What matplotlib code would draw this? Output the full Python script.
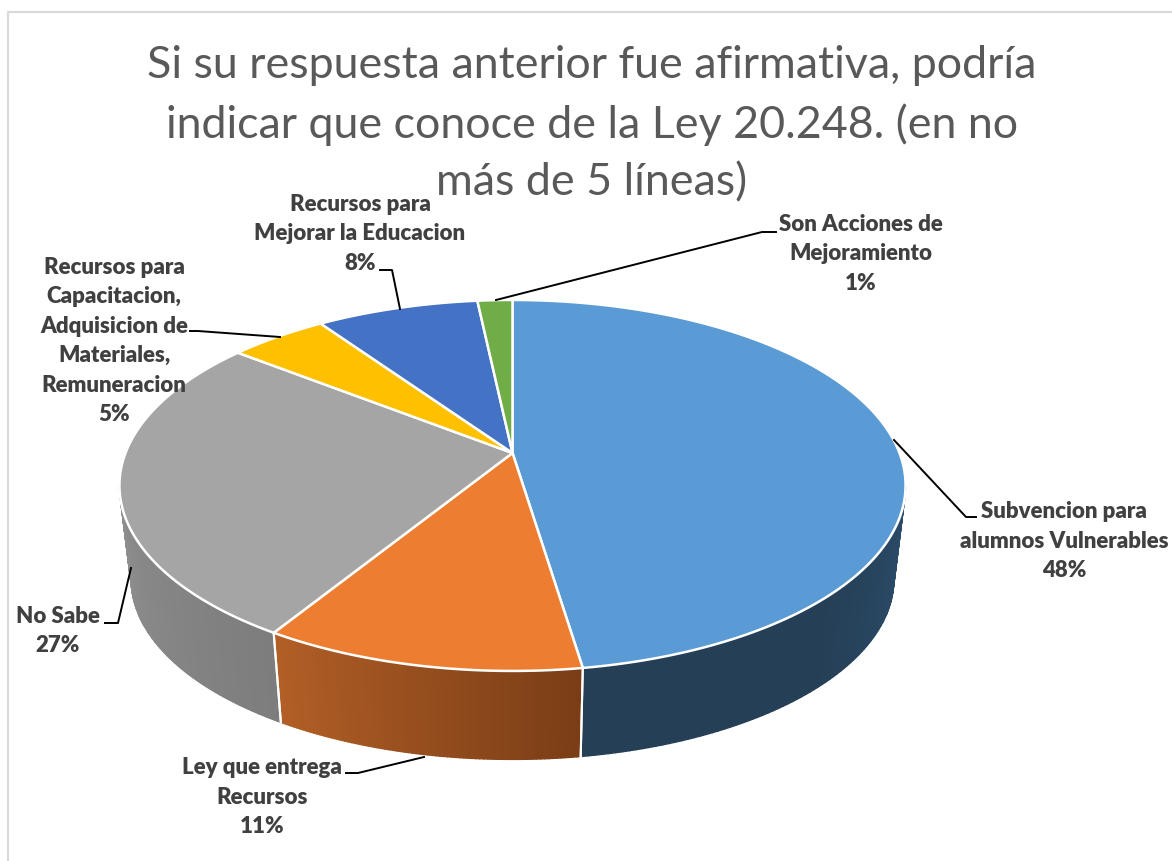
import numpy as np
import matplotlib.pyplot as plt
from matplotlib.colors import LinearSegmentedColormap
from matplotlib.patches import Polygon

# porcentajes (empieza arriba, sentido horario)
shares = [47.6, 11.2, 26.8, 4.8, 7.9, 1.7]
names = ['Subvencion para\nalumnos Vulnerables', 'Ley que entrega\nRecursos', 'No Sabe',
         'Recursos para\nCapacitacion,\nAdquisicion de\nMateriales,\nRemuneracion',
         'Recursos para\nMejorar la Educacion', 'Son Acciones de\nMejoramiento']
pct_labels = ['48%', '11%', '27%', '5%', '8%', '1%']
title = 'Si su respuesta anterior fue afirmativa, podría\nindicar que conoce de la Ley 20.248. (en no\nmás de 5 líneas)'

top_colors = ['#5B9BD5', '#ED7D31', '#A5A5A5', '#FFC000', '#4472C4', '#70AD47']
side_stops = [['#253F56', '#253F56', '#2C4D6B'], ['#B25F26', '#7A3D16'], ['#8E8E8E', '#7D7D7D'],
              ['#99730A', '#99730A'], ['#29447A', '#29447A'], ['#43682B', '#43682B']]

label_xy = [(1064, 541), (262, 797), (58, 631), (114, 341), (360, 234), (861, 254)]
leaders = [[(894, 440), (966, 517), (976, 517)],
           [(424, 757), (358, 773), (346, 773)],
           [(131, 568), (118, 623), (105, 623)],
           [(280, 337), (198, 331), (190, 331)],
           [(400, 309), (392, 270), (380, 270)],
           [(496, 300), (762, 232), (776, 232)]]

cx, cy = 512.5, 453
a, b, k = 387, 179.8, 0.175
shrink, drop = 0.97, 95


def top_pt(th):
    x, y = np.sin(th), np.cos(th)
    w = 1 + k * y
    return cx + a * x / w, cy - b * y / w


def low_pt(th):
    x, y = np.sin(th), np.cos(th)
    w = 1 + k * y
    return cx + shrink * a * x / w, cy + drop - shrink * b * y / w


fig = plt.figure(figsize=(11.72, 8.61), dpi=100)
ax = fig.add_axes([0, 0, 1, 1])
ax.set_xlim(0, 1172)
ax.set_ylim(861, 0)
ax.axis('off')

# borde del area del grafico
ax.plot([8, 8, 1172], [861, 12, 12], color='#D9D9D9', lw=1.5)

edges = np.radians(np.cumsum([0] + shares) * 3.6)
left_lim = np.pi + np.arcsin(np.sqrt(1 - k ** 2))  # limite visible a la izquierda
right_lim = np.pi - np.arcsin(np.sqrt(1 - k ** 2))

# paredes laterales, franjas finas para el degradado
for i in range(len(shares)):
    start = max(edges[i], right_lim)
    end = min(edges[i + 1], left_lim)
    if end <= start:
        continue
    cmap = LinearSegmentedColormap.from_list('s', side_stops[i][::-1])
    ths = np.linspace(start, end, 80)
    for j in range(len(ths) - 1):
        t0, t1 = ths[j], ths[j + 1]
        xy = [top_pt(t0), top_pt(t1), low_pt(t1), low_pt(t0)]
        c = cmap(j / (len(ths) - 2))
        ax.add_patch(Polygon(xy, closed=True, fc=c, ec=c, lw=1.0))
    for e in (edges[i], edges[i + 1]):
        if right_lim < e < left_lim:
            p, q = top_pt(e), low_pt(e)
            ax.plot([p[0], q[0]], [p[1], q[1]], color='white', lw=1.5, zorder=3)

# tapa superior
for i in range(len(shares)):
    ths = np.linspace(edges[i], edges[i + 1], 200)
    xy = [(cx, cy)] + [top_pt(t) for t in ths]
    ax.add_patch(Polygon(xy, closed=True, fc=top_colors[i], ec='white', lw=1.8, joinstyle='round', zorder=4))

for pts in leaders:
    ax.plot(*zip(*pts), color='black', lw=1.4, zorder=5)

ax.text(592, 124, title, ha='center', va='center', fontsize=32.2, family='Lato', color='#595959',
        linespacing=1.5, zorder=2)

for name, pct, (x, y) in zip(names, pct_labels, label_xy):
    ax.text(x, y, name + '\n' + pct, ha='center', va='center', fontsize=16, family='Lato',
            weight='heavy', color='#404040', linespacing=1.5, zorder=6)

plt.savefig('out.png', dpi=100)
